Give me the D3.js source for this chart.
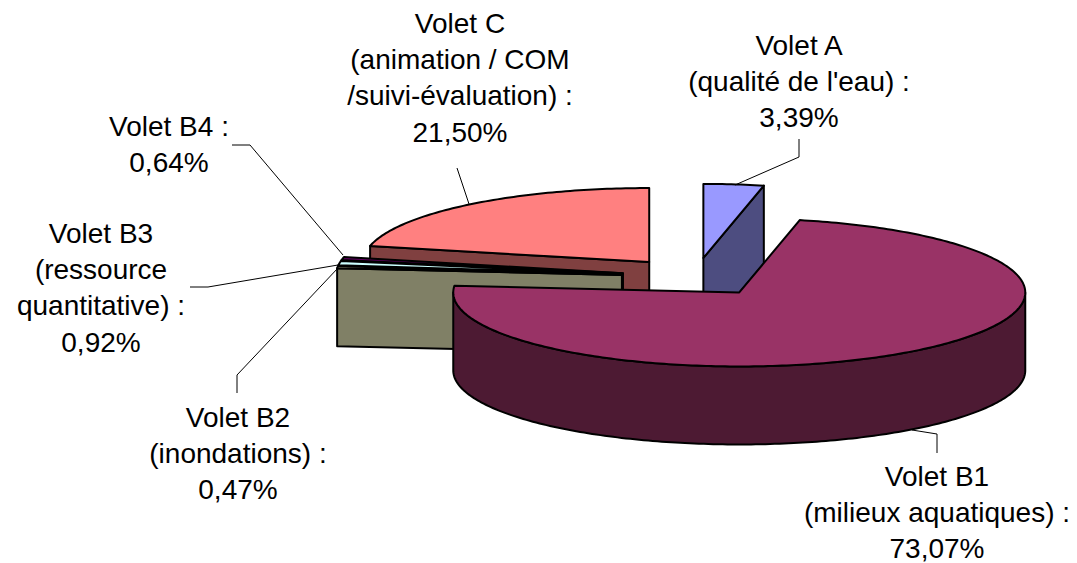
<!DOCTYPE html>
<meta charset="utf-8">
<style>
  body { margin: 0; background: #fff; }
  text { font-family: "Liberation Sans", Arial, sans-serif; font-size: 28px; fill: #000; }
</style>
<svg width="1077" height="563"></svg>
<script src="https://d3js.org/d3.v7.min.js"></script>
<script>
var values = [3.39, 73.07, 0.47, 0.92, 0.64, 21.50];
var topColors = ["#9999ff", "#993366", "#ffffcc", "#ccffff", "#660066", "#ff8080"];
var labelLines = [
  ["Volet A", "(qualité de l'eau) :", "3,39%"],
  ["Volet B1", "(milieux aquatiques) :", "73,07%"],
  ["Volet B2", "(inondations) :", "0,47%"],
  ["Volet B3", "(ressource", "quantitative) :", "0,92%"],
  ["Volet B4 :", "0,64%"],
  ["Volet C", "(animation / COM", "/suivi-évaluation) :", "21,50%"]
];

// label anchors and leader lines, in pixels, same order as values
var labelPos = [[799, 55], [937, 486], [238, 427], [101, 243], [169, 136], [460, 33]];
var leaders = [
  [[799, 139], [799, 157], [735, 185]],
  [[912, 430], [937, 434], [937, 453]],
  [[237, 393], [237, 375], [338, 268]],
  [[190, 287], [208, 287], [338, 265]],
  [[232, 145], [250, 145], [343, 255]],
  [[457, 168], [469, 204]]
];

var cx = 695.5, cy = 277, rx = 286, ry = 74, depth = 78, explode = 74, lineH = 36.2;

var svg = d3.select("svg");

var slices = d3.pie().sort(null).value(function(d) { return d; })(values);
slices.forEach(function(s, i) {
  s.color = d3.color(topColors[i]);
  s.side = d3.rgb(s.color.r / 2, s.color.g / 2, s.color.b / 2);
  var mid = (s.startAngle + s.endAngle) / 2;
  s.ox = cx + explode * Math.sin(mid);
  s.oy = cy - explode * (ry / rx) * Math.cos(mid);
});

function pt(s, a, down) {
  return [s.ox + rx * Math.sin(a), s.oy - ry * Math.cos(a) + (down ? depth : 0)];
}
function arcPts(s, a0, a1, down) {
  var n = Math.max(2, Math.ceil((a1 - a0) * 60));
  return d3.range(n + 1).map(function(k) { return pt(s, a0 + (a1 - a0) * k / n, down); });
}
var line = d3.line();

function topPath(s) {
  return line([[s.ox, s.oy]].concat(arcPts(s, s.startAngle, s.endAngle, false))) + "Z";
}
function radialWall(s, a) {
  return line([[s.ox, s.oy], pt(s, a, false), pt(s, a, true), [s.ox, s.oy + depth]]) + "Z";
}
function outerWall(s) {
  var a0 = Math.max(s.startAngle, Math.PI / 2), a1 = Math.min(s.endAngle, 3 * Math.PI / 2);
  if (a1 <= a0) return null;
  return line(arcPts(s, a0, a1, false).concat(arcPts(s, a0, a1, true).reverse())) + "Z";
}

// back to front: C, B4, B3, B2, A, B1
var order = [5, 4, 3, 2, 0, 1];
var g = svg.selectAll("g.slice").data(order.map(function(i) { return slices[i]; }))
  .join("g").attr("class", "slice")
  .attr("stroke", "#000").attr("stroke-width", 2).attr("stroke-linejoin", "round");

g.each(function(s) {
  var el = d3.select(this), walls = [];
  if (Math.sin(s.startAngle) < -0.001) walls.push(radialWall(s, s.startAngle));
  if (Math.sin(s.endAngle) > 0.001) walls.push(radialWall(s, s.endAngle));
  var o = outerWall(s);
  if (o) walls.push(o);
  walls.forEach(function(d) { el.append("path").attr("d", d).attr("fill", s.side); });
  el.append("path").attr("d", topPath(s)).attr("fill", s.color);
});

svg.selectAll("path.leader").data(leaders).join("path")
  .attr("class", "leader")
  .attr("d", line)
  .attr("fill", "none").attr("stroke", "#000").attr("stroke-width", 1);

svg.selectAll("text.label").data(labelLines).join("text")
  .attr("class", "label")
  .attr("text-anchor", "middle")
  .attr("transform", function(d, i) { return "translate(" + labelPos[i] + ")"; })
  .selectAll("tspan").data(function(d) { return d; }).join("tspan")
  .attr("x", 0)
  .attr("y", function(d, i) { return i * lineH; })
  .text(function(d) { return d; });
</script>
